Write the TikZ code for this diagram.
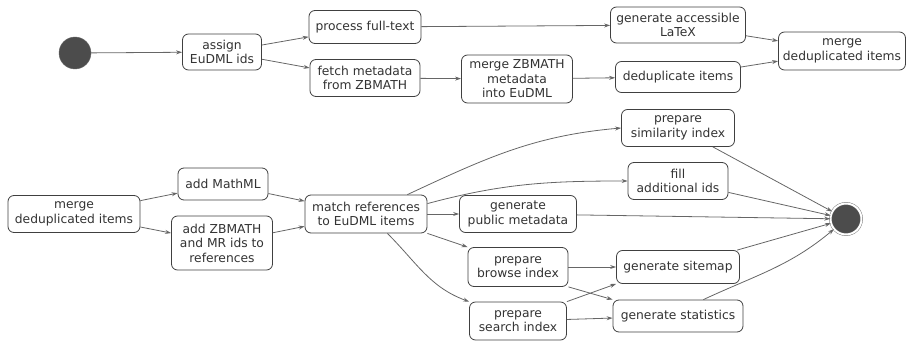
\documentclass[tikz,border=0pt]{standalone}
\usepackage{fontspec}
\setmainfont{DejaVu Sans}
\usetikzlibrary{arrows.meta}
\begin{document}
\begin{tikzpicture}[x=1pt,y=-1pt,
  box/.style={draw=black!75, line width=0.8pt, rounded corners=6pt, fill=white,
    align=center, inner sep=1pt, text=black!80, font=\fontsize{12.3}{14.5}\selectfont},
  edge/.style={draw=black!60, line width=0.8pt, -{Stealth[length=6pt,width=4pt]}},
  startnode/.style={circle, fill=black!70, draw=black!60, minimum size=32pt, inner sep=0pt},
  endnode/.style={circle, fill=black!70, draw=black!60, minimum size=31pt, inner sep=0pt,
    double=white, double distance=2pt}]
\useasboundingbox (0,0) rectangle (911,342);
% top flow
\node[startnode] (s) at (75,53) {};
\node[box, minimum width=79pt, minimum height=36pt] (assign) at (222,52) {assign\\EuDML ids};
\node[box, minimum width=112pt, minimum height=33pt] (proc) at (365,27) {process full-text};
\node[box, minimum width=110pt, minimum height=37pt] (fetch) at (365,78) {fetch metadata\\from ZBMATH};
\node[box, minimum width=111pt, minimum height=48pt] (mergez) at (517,79) {merge ZBMATH\\metadata\\into EuDML};
\node[box, minimum width=135pt, minimum height=36pt] (latex) at (678,25) {generate accessible\\LaTeX};
\node[box, minimum width=125pt, minimum height=31pt] (dedup) at (678,77) {deduplicate items};
\node[box, minimum width=127pt, minimum height=38pt] (mtop) at (842,51) {merge\\deduplicated items};
\draw[edge] (s) -- (assign);
\draw[edge] (assign) -- (proc);
\draw[edge] (assign) -- (fetch);
\draw[edge] (proc) -- (latex);
\draw[edge] (fetch) -- (mergez);
\draw[edge] (mergez) -- (dedup);
\draw[edge] (latex) -- (mtop);
\draw[edge] (dedup) -- (mtop);
% bottom flow
\node[box, minimum width=132pt, minimum height=37pt] (mleft) at (74,214) {merge\\deduplicated items};
\node[box, minimum width=90pt, minimum height=32pt] (mathml) at (223,184) {add MathML};
\node[box, minimum width=101pt, minimum height=54pt] (addz) at (222,243) {add ZBMATH\\and MR ids to\\references};
\node[box, minimum width=122pt, minimum height=38pt] (match) at (366,214) {match references\\to EuDML items};
\node[box, minimum width=113pt, minimum height=37pt] (sim) at (678,128) {prepare\\similarity index};
\node[box, minimum width=100pt, minimum height=37pt] (fill) at (678,181) {fill\\additional ids};
\node[box, minimum width=117pt, minimum height=37pt] (pub) at (518,214) {generate\\public metadata};
\node[box, minimum width=100pt, minimum height=39pt] (browse) at (518,267) {prepare\\browse index};
\node[box, minimum width=97pt, minimum height=38pt] (search) at (518,321) {prepare\\search index};
\node[box, minimum width=123pt, minimum height=33pt] (sitemap) at (678,267) {generate sitemap};
\node[box, minimum width=130pt, minimum height=32pt] (stats) at (678,316) {generate statistics};
\node[endnode] (e) at (846,219) {};
\draw[edge] (mleft) -- (mathml);
\draw[edge] (mleft) -- (addz);
\draw[edge] (mathml) -- (match);
\draw[edge] (addz) -- (match);
\draw[edge] (match.north east) ++(-20,0) to[out=25, in=185] (sim.west);
\draw[edge] ([yshift=-9pt]match.north east) to[out=15, in=180] (fill.west);
\draw[edge] (match) -- (pub);
\draw[edge] (match.south east) -- (browse.north west);
\draw[edge] ([xshift=-40pt]match.south east) to[out=-45, in=160] (search.north west);
\draw[edge] (sim) -- (e);
\draw[edge] (fill) -- (e);
\draw[edge] (pub) -- (e);
\draw[edge] (browse) -- (sitemap);
\draw[edge] (browse.south east) -- (stats.north west);
\draw[edge] (search.north east) -- (sitemap.south west);
\draw[edge] (search) -- (stats);
\draw[edge] (sitemap) -- (e);
\draw[edge] (stats.north east) ++(-40,0) to[out=25, in=220] (e);
\end{tikzpicture}
\end{document}
